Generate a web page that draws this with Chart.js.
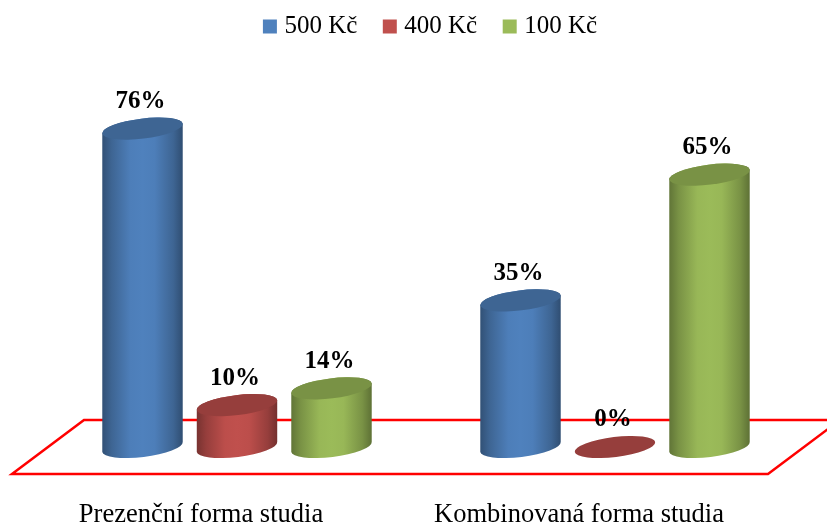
<!DOCTYPE html>
<html lang="cs">
<head>
<meta charset="utf-8">
<title>Forma studia</title>
<style>
  html, body { margin: 0; padding: 0; background: #fff; }
  #wrap { position: relative; width: 827px; height: 526px; }
</style>
<script src="https://cdn.jsdelivr.net/npm/chart.js@4"></script>
</head>
<body>
<div id="wrap"><canvas id="chart"></canvas></div>
<script>
const categories = ['Prezenční forma studia', 'Kombinovaná forma studia'];
const seriesNames = ['500 Kč', '400 Kč', '100 Kč'];
const values500 = [76, 35];
const values400 = [10, 0];
const values100 = [14, 65];
const seriesColors = ['#4F81BD', '#C0504D', '#9BBB59'];
const FONT = '"Liberation Serif", "Times New Roman", serif';

// Multiply an #rrggbb colour by a brightness factor.
function shade(hex, f) {
  const n = parseInt(hex.slice(1), 16);
  const c = [n >> 16 & 255, n >> 8 & 255, n & 255].map(v => Math.round(v * f));
  return `rgb(${c[0]},${c[1]},${c[2]})`;
}

// Tilted ellipse used for the cylinder caps and bases.
const TILT = -7 * Math.PI / 180;
const CAP_MINOR = 10;

function capPath(ctx, x, y, major, start, end) {
  ctx.ellipse(x, y, major, CAP_MINOR, TILT, start, end);
}

// Cylinders take their position and height from the bar elements.
const cylinders = {
  id: 'cylinders',
  beforeDatasetDraw(chart, args) {
    const ctx = chart.ctx;
    const color = chart.data.datasets[args.index].backgroundColor;
    chart.getDatasetMeta(args.index).data.forEach(bar => {
      const major = bar.width / 2 + 0.5;
      if (bar.base - bar.y > 0.5) {
        const g = ctx.createLinearGradient(bar.x - major, 0, bar.x + major, 0);
        g.addColorStop(0, shade(color, 0.62));
        g.addColorStop(0.12, shade(color, 0.78));
        g.addColorStop(0.35, shade(color, 0.98));
        g.addColorStop(0.5, shade(color, 1));
        g.addColorStop(0.65, shade(color, 0.98));
        g.addColorStop(0.88, shade(color, 0.78));
        g.addColorStop(1, shade(color, 0.6));
        ctx.beginPath();
        capPath(ctx, bar.x, bar.y, major, Math.PI, 2 * Math.PI);
        capPath(ctx, bar.x, bar.base, major, 0, Math.PI);
        ctx.closePath();
        ctx.fillStyle = g;
        ctx.fill();
      }
      ctx.beginPath();
      capPath(ctx, bar.x, bar.y, major, 0, 2 * Math.PI);
      ctx.fillStyle = shade(color, 0.78);
      ctx.fill();
    });
    return false;
  }
};

// Red floor frame sheared around the zero line of the value axis.
const floorFrame = {
  id: 'floorFrame',
  beforeDatasetsDraw(chart) {
    const { ctx, chartArea: a, scales } = chart;
    const zero = scales.y.getPixelForValue(0);
    const depth = 27, shear = 36;
    ctx.save();
    ctx.beginPath();
    ctx.moveTo(a.left + shear, zero - depth);
    ctx.lineTo(a.right + shear, zero - depth);
    ctx.lineTo(a.right - shear, zero + depth);
    ctx.lineTo(a.left - shear, zero + depth);
    ctx.closePath();
    ctx.strokeStyle = '#FF0000';
    ctx.lineWidth = 2.5;
    ctx.stroke();
    ctx.restore();
  }
};

// Percentage labels above each cylinder cap.
const valueLabels = {
  id: 'valueLabels',
  afterDatasetsDraw(chart) {
    const ctx = chart.ctx;
    ctx.save();
    ctx.font = `bold 25px ${FONT}`;
    ctx.fillStyle = '#000';
    ctx.textAlign = 'center';
    ctx.textBaseline = 'middle';
    chart.data.datasets.forEach((ds, i) => {
      chart.getDatasetMeta(i).data.forEach((bar, j) => {
        ctx.fillText(ds.data[j] + '%', bar.x - 2, bar.y - 27);
      });
    });
    ctx.restore();
  }
};

// Nudge the centred legend slightly to the right of the plot centre.
const legendOffset = {
  id: 'legendOffset',
  afterLayout(chart) {
    chart.legend.left += 13;
  }
};

new Chart(document.getElementById('chart'), {
  type: 'bar',
  data: {
    labels: categories,
    datasets: [
      { label: seriesNames[0], data: values500, backgroundColor: seriesColors[0] },
      { label: seriesNames[1], data: values400, backgroundColor: seriesColors[1] },
      { label: seriesNames[2], data: values100, backgroundColor: seriesColors[2] }
    ]
  },
  plugins: [floorFrame, cylinders, valueLabels, legendOffset],
  options: {
    responsive: true,
    maintainAspectRatio: false,
    animation: false,
    layout: { padding: { left: 48, right: 23, top: -16.5, bottom: -57.5 } },
    datasets: { bar: { categoryPercentage: 0.75, barPercentage: 0.847, borderWidth: 0 } },
    scales: {
      x: {
        grid: { display: false, drawTicks: false },
        border: { display: false },
        ticks: {
          color: '#000',
          padding: 55,
          labelOffset: -36,
          maxRotation: 0,
          font: { family: FONT, size: 26.5, lineHeight: 1 }
        }
      },
      y: { display: false, min: 0, max: 95 }
    },
    plugins: {
      tooltip: { enabled: false },
      legend: {
        position: 'top',
        labels: {
          usePointStyle: true,
          pointStyle: 'rect',
          boxWidth: 4,
          boxHeight: 14,
          padding: 30.5,
          color: '#000',
          font: { family: FONT, size: 25 }
        }
      }
    }
  }
});
</script>
</body>
</html>
